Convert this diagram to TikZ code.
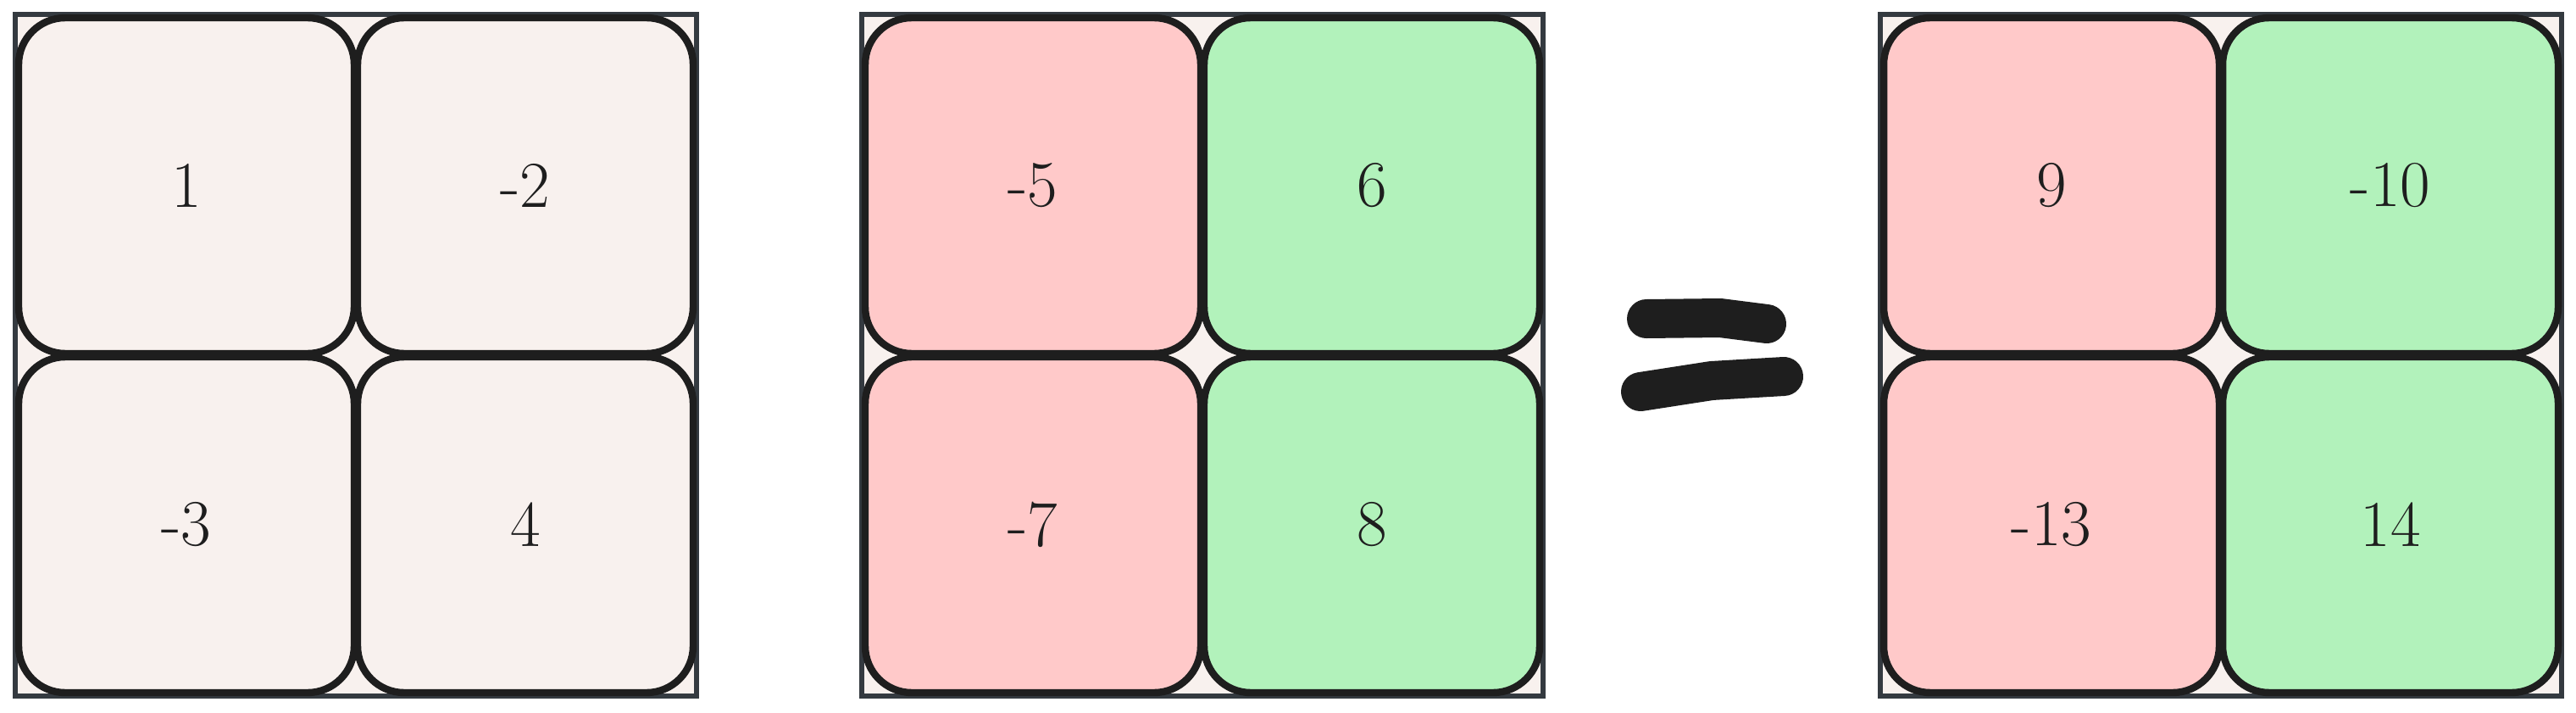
\documentclass[tikz,border=0pt]{standalone}
\usetikzlibrary{positioning}
\definecolor{frameline}{HTML}{343A40}
\definecolor{paper}{HTML}{F8F1EE}
\definecolor{ink}{HTML}{1E1E1E}
\definecolor{negred}{HTML}{FFC9C9}
\definecolor{posgreen}{HTML}{B2F2BB}
\tikzset{
  frame/.style={draw=frameline, line width=1.7pt, fill=paper, minimum size=8.04cm, inner sep=0pt, outer sep=0pt, anchor=north west},
  cell/.style={draw=ink, line width=2.4pt, rounded corners=0.55cm, minimum size=3.96cm, inner sep=0pt, outer sep=0pt, text=ink, font=\fontsize{22}{26}\selectfont},
  stroke/.style={ink, line width=0.46cm, line cap=round, line join=round}
}

\begin{document}
\begin{tikzpicture}
\useasboundingbox (0,0) rectangle (30.4,-8.4);

\foreach \m/\x/\p/\q/\r/\s/\cl/\cr in {a/0.18/1/-2/-3/4/paper/paper,
                                     b/10.17/-5/6/-7/8/negred/posgreen,
                                     c/22.19/9/-10/-13/14/negred/posgreen}
{
\node[frame] (\m) at (\x,-0.17) {};
\node[cell, fill=\cl, anchor=north west] (\m11) at ([shift={(0.04,-0.04)}]\m.north west) {\p};
\node[cell, fill=\cr, right=0.04cm of \m11] (\m12) {\q};
\node[cell, fill=\cl, below=0.04cm of \m11] (\m21) {\r};
\node[cell, fill=\cr, below=0.04cm of \m12] (\m22) {\s};
}

% equals sign
\coordinate (eq1) at (19.43,-3.76);
\coordinate (eq2) at (20.85,-3.82);
\coordinate (eq3) at (19.36,-4.62);
\coordinate (eq4) at (21.05,-4.44);
\draw[stroke] (eq1) -- (20.30,-3.75) -- (eq2);
\draw[stroke] (eq3) -- (20.20,-4.49) -- (eq4);
\end{tikzpicture}
\end{document}
